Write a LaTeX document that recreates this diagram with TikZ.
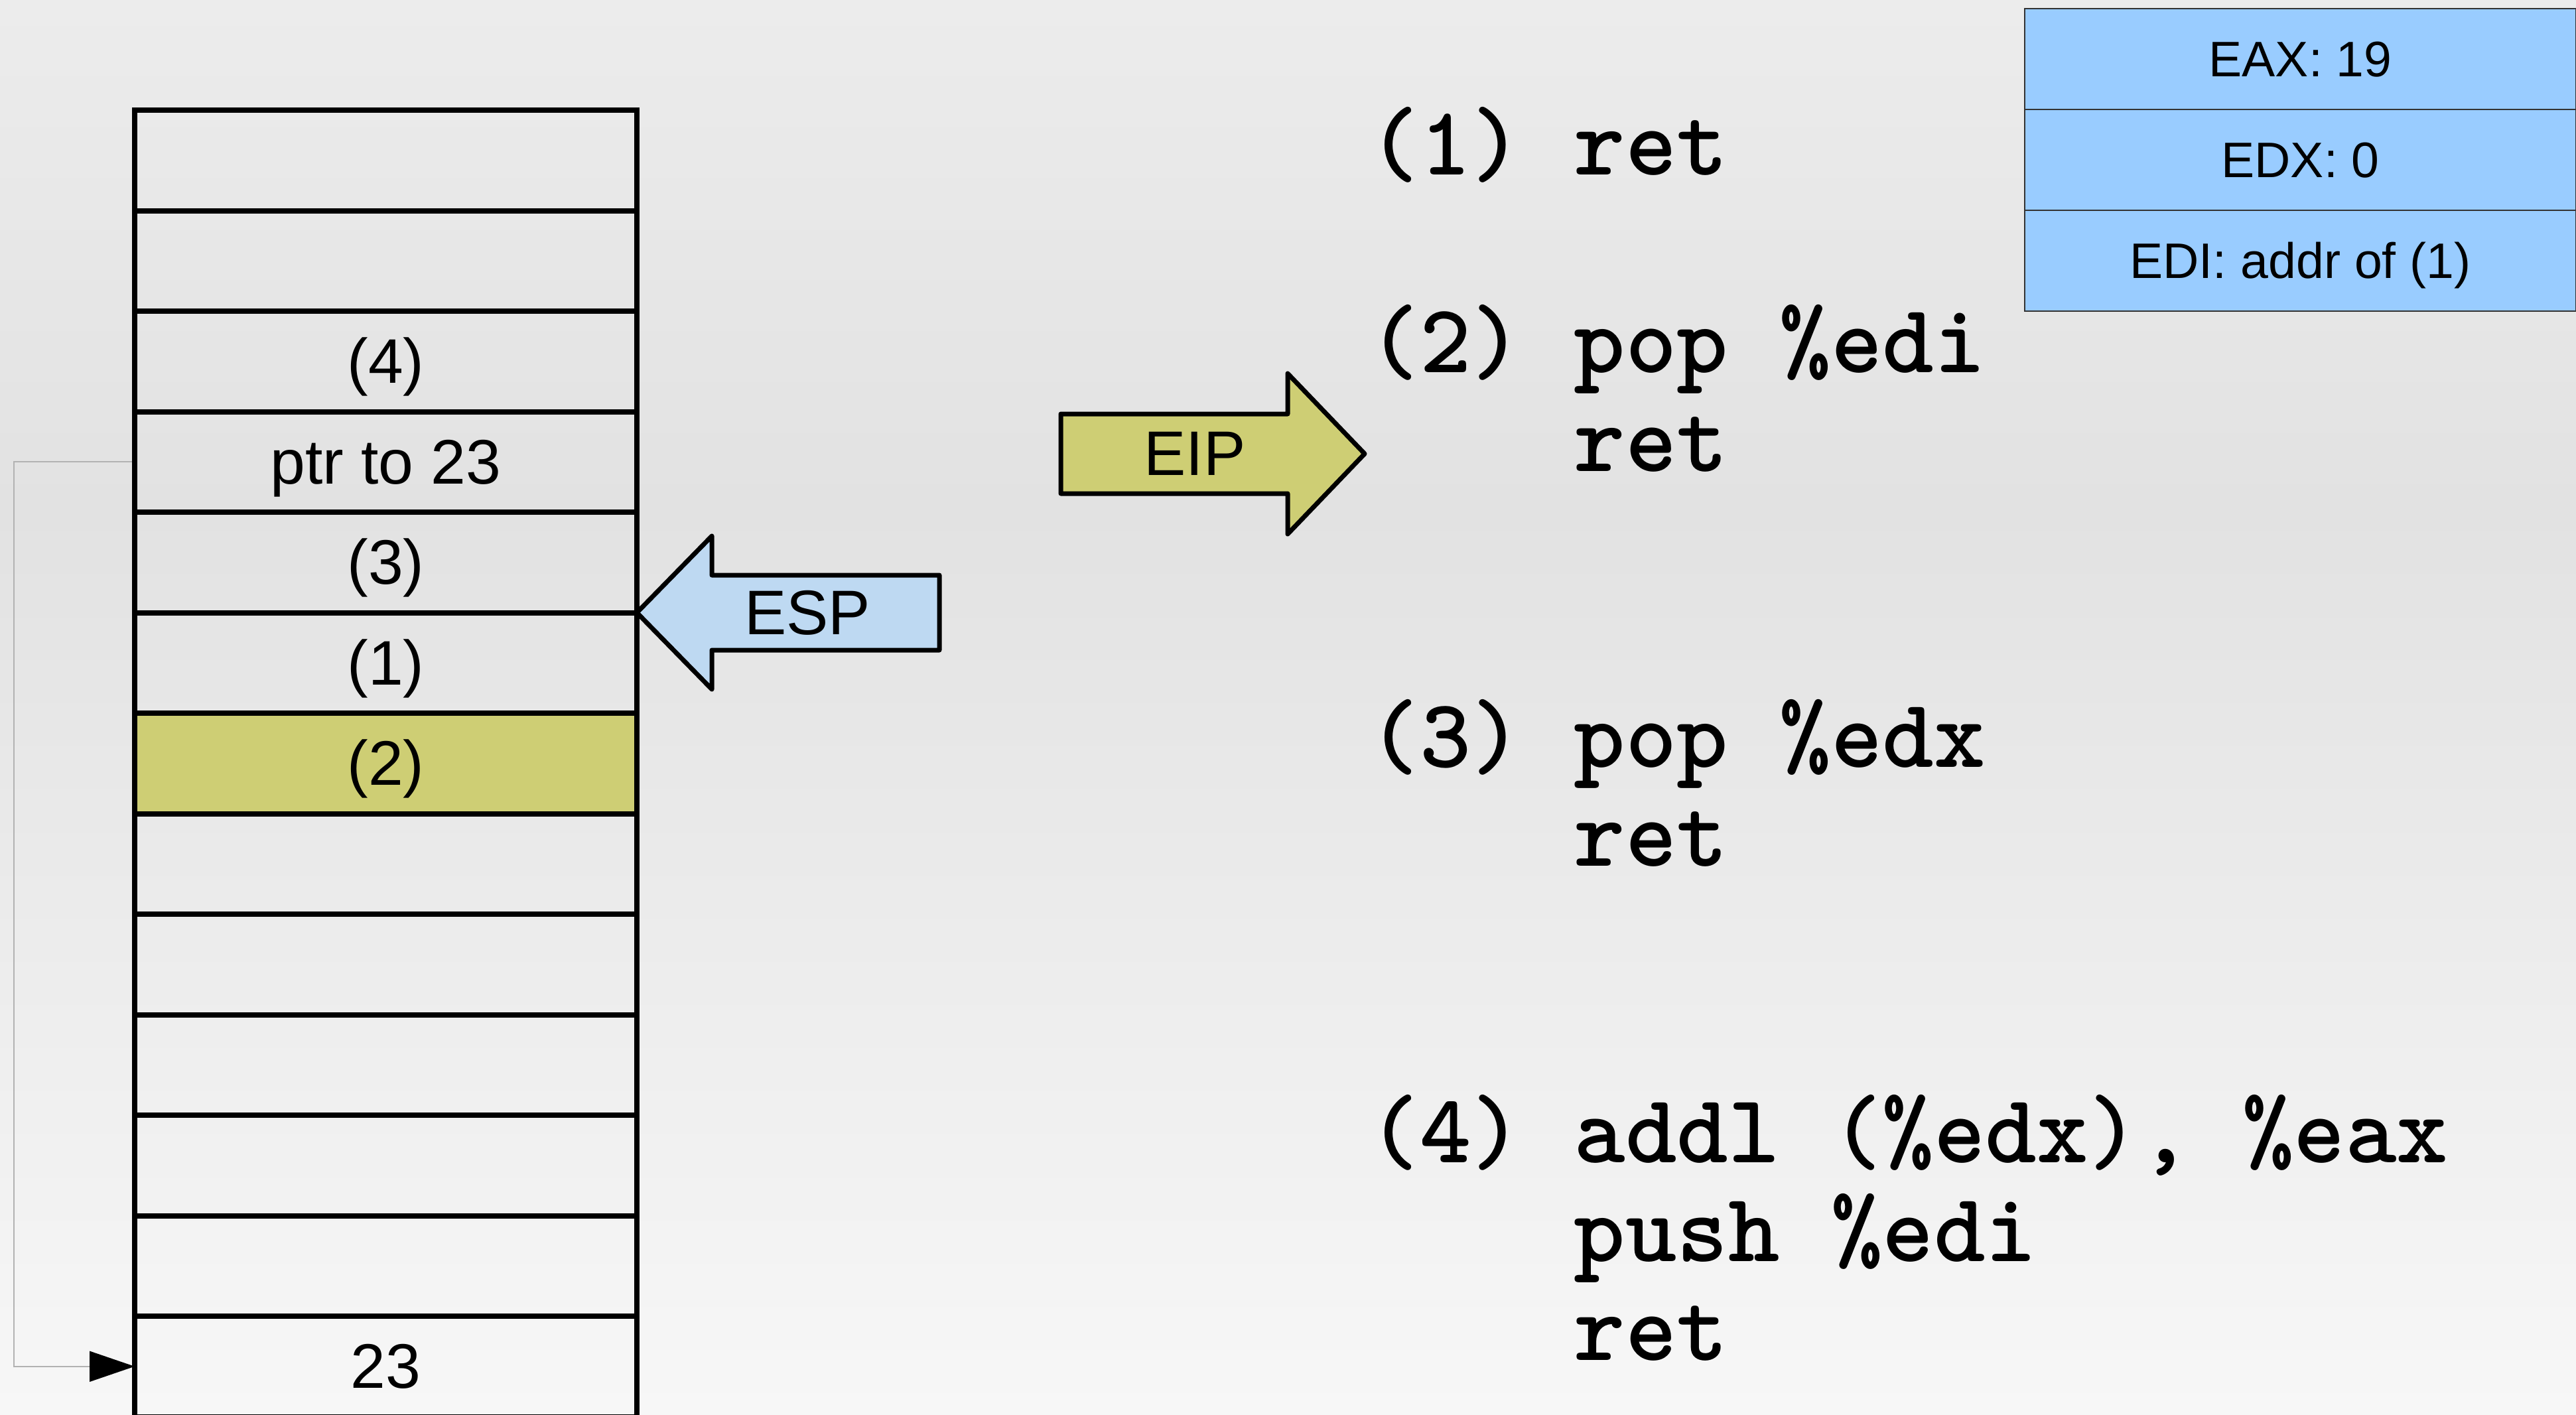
\documentclass[tikz,border=0pt]{standalone}
\usepackage{fontspec}
\setmainfont{Liberation Sans}
\usetikzlibrary{arrows.meta,positioning}

\definecolor{bgtop}{RGB}{236,236,236}
\definecolor{bgmid}{RGB}{226,226,226}
\definecolor{bgbot}{RGB}{247,247,247}
\definecolor{slotyellow}{RGB}{206,206,116}
\definecolor{espblue}{RGB}{190,217,242}
\definecolor{regblue}{RGB}{153,204,255}
\pgfdeclareverticalshading{slidebg}{100bp}{color(0bp)=(bgbot); color(25bp)=(bgbot);
  color(57bp)=(bgmid); color(75bp)=(bgtop); color(100bp)=(bgtop)}

\begin{document}
\begin{tikzpicture}[x=1cm, y=-1cm,
  cellbox/.style={draw, line width=0.08cm, minimum width=7.57cm, minimum height=1.515cm,
    inner sep=0pt, outer sep=0pt, text height=0.68cm, text depth=0.02cm,
    font=\fontsize{27pt}{32pt}\selectfont},
  regbox/.style={draw=black!80, line width=0.025cm, fill=regblue, minimum width=8.31cm,
    minimum height=1.52cm, inner sep=0pt, outer sep=0pt, text height=0.54cm, text depth=0.02cm,
    font=\fontsize{21.4pt}{26pt}\selectfont},
  bigarrow/.style={draw, line width=0.07cm, line join=round},
  arrowlabel/.style={font=\fontsize{27pt}{32pt}\selectfont, inner sep=0pt},
  codeline/.style={anchor=base west, inner sep=0pt,
    font=\fontsize{42pt}{50pt}\selectfont\ttfamily\bfseries},
  ptrline/.style={draw=black!30, line width=0.02cm,
    -{Triangle[length=0.68cm, width=0.46cm, color=black, fill=black]}}]

% slide background
\shade[shading=slidebg] (0,0) rectangle (38.83,21.32);
\useasboundingbox (0,0) rectangle (38.83,21.32);

% stack
\node[cellbox] (c1) at (5.815,2.4175) {};
\node[cellbox, below=0pt of c1] (c2) {};
\node[cellbox, below=0pt of c2] (c3) {(4)};
\node[cellbox, below=0pt of c3] (c4) {ptr to 23};
\node[cellbox, below=0pt of c4] (c5) {(3)};
\node[cellbox, below=0pt of c5] (c6) {(1)};
\node[cellbox, fill=slotyellow, below=0pt of c6] (c7) {(2)};
\node[cellbox, below=0pt of c7] (c8) {};
\node[cellbox, below=0pt of c8] (c9) {};
\node[cellbox, below=0pt of c9] (c10) {};
\node[cellbox, below=0pt of c10] (c11) {};
\node[cellbox, below=0pt of c11] (c12) {};
\node[cellbox, below=0pt of c12] (c13) {23};

\draw[ptrline] ([xshift=-0.04cm]c4.west) -- ++(-1.78,0) |- (c13.west);

% ESP
\draw[bigarrow, fill=espblue] (c6.north east) -- ++(1.13,-1.155) -- ++(0,0.59) -- ++(3.43,0)
  -- ++(0,1.13) -- ++(-3.43,0) -- ++(0,0.59) -- cycle;
\node[arrowlabel] (esp) at (12.17,9.235) {ESP};

% EIP
\draw[bigarrow, fill=slotyellow] (15.99,6.24) -- (19.41,6.24) -- (19.41,5.63) -- (20.57,6.84)
  -- (19.41,8.05) -- (19.41,7.44) -- (15.99,7.44) -- cycle;
\node[arrowlabel] (eip) at (18.01,6.84) {EIP};

% gadgets
\node[codeline] (g1) at (20.62,2.63) {(1) ret};
\node[codeline] (g2) at (20.62,5.61) {(2) pop \%edi};
\node[codeline] (g2r) at (23.72,7.10) {ret};
\node[codeline] (g3) at (20.62,11.56) {(3) pop \%edx};
\node[codeline] (g3r) at (23.72,13.05) {ret};
\node[codeline] (g4) at (20.62,17.52) {(4) addl (\%edx), \%eax};
\node[codeline] (g4p) at (23.72,19.01) {push \%edi};
\node[codeline] (g4r) at (23.72,20.50) {ret};

% registers
\node[regbox] (eax) at (34.675,0.89) {EAX: 19};
\node[regbox, below=0pt of eax] (edx) {EDX: 0};
\node[regbox, below=0pt of edx] (edi) {EDI: addr of (1)};
\end{tikzpicture}
\end{document}
